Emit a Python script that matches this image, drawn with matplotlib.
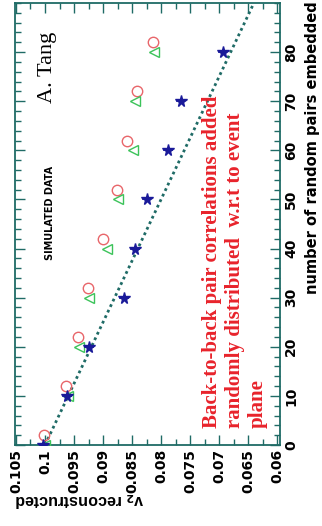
import matplotlib
matplotlib.use('Agg')
import matplotlib.pyplot as plt
from matplotlib.ticker import MultipleLocator

# ---- data ----
pairs = [0, 10, 20, 30, 40, 50, 60, 70, 80]
circle_pairs = [2, 12, 22, 32, 42, 52, 62, 72, 82]
v2_star = [0.1004, 0.0962, 0.0924, 0.0864, 0.0845, 0.0825, 0.0788, 0.0766, 0.0694]
v2_star_err = [0.0008, 0.0008, 0.0008, 0.0008, 0.0008, 0.0008, 0.0008, 0.0008, 0.0008]
v2_triangle = [0.1000, 0.0961, 0.0941, 0.0924, 0.0893, 0.0874, 0.0848, 0.0845, 0.0812]
v2_circle = [0.1002, 0.0963, 0.0943, 0.0926, 0.0900, 0.0876, 0.0859, 0.0841, 0.0814]
line_pairs = [0, 90]
line_v2 = [0.1000, 0.0640]

v2_ticks = [0.105, 0.1, 0.095, 0.09, 0.085, 0.08, 0.075, 0.07, 0.065, 0.06]
v2_tick_labels = ['0.105', '0.1', '0.095', '0.09', '0.085', '0.08', '0.075', '0.07', '0.065', '0.06']
pair_ticks = [0, 10, 20, 30, 40, 50, 60, 70, 80]
pair_tick_labels = ['0', '10', '20', '30', '40', '50', '60', '70', '80']

teal = '#1f6b66'
red_c = '#e8666a'
green_c = '#3cc35a'
navy = '#1a1a99'
red_txt = '#e8232b'

fig = plt.figure(figsize=(3.22, 5.26), dpi=100)
ax = fig.add_axes([15 / 322, 1 - 445 / 526, 265 / 322, 442 / 526])
ax.set_xlim(0.10517, 0.0595)
ax.set_ylim(0, 90)

ax.plot(line_v2, line_pairs, ls=(0, (1, 1.2)), color=teal, lw=2.0, zorder=2)
ax.plot(v2_circle, circle_pairs, marker='o', ls='none', mfc='none', mec=red_c, ms=7.5, mew=1.0, zorder=3)
ax.plot(v2_triangle, pairs, marker='<', ls='none', mfc='none', mec=green_c, ms=7.5, mew=1.0, zorder=3)
ax.errorbar(v2_star, pairs, xerr=v2_star_err, fmt='*', color=navy, ms=8.5, elinewidth=1.2, capsize=0, zorder=4)

ax.set_xticks(v2_ticks)
ax.set_xticklabels(v2_tick_labels, rotation=90, fontsize=10, fontweight='bold', family='DejaVu Sans')
ax.xaxis.set_minor_locator(MultipleLocator(0.0025))
ax.set_yticks(pair_ticks)
ax.set_yticklabels(pair_tick_labels, rotation=90, fontsize=10, fontweight='bold', family='DejaVu Sans',
                   va='center')
ax.yaxis.set_minor_locator(MultipleLocator(2))
ax.tick_params(which='both', direction='in', top=True, bottom=True, left=True, right=True,
               labelleft=False, labelright=True, color=teal, width=1.0)
ax.tick_params(which='major', length=7, pad=3)
ax.tick_params(which='minor', length=4)
for s in ax.spines.values():
    s.set_color(teal)
    s.set_linewidth(1.3)

# axis titles
fig.text(305 / 322, 1 - 1 / 526, 'number of random pairs embedded', rotation=90, ha='left', va='top',
         fontsize=10.5, fontweight='bold', family='DejaVu Sans')
fig.text(15 / 322, 1 - 499 / 526, r'v$_{\mathbf{2}}$ reconstructed', rotation=180, ha='left', va='center',
         fontsize=11.5, fontweight='bold', family='Liberation Sans')

# annotations
ax.text(0.121, 0.855, 'A. Tang', rotation=90, ha='center', va='center', transform=ax.transAxes,
        fontsize=16, family='Liberation Serif')
ax.text(0.133, 0.525, 'SIMULATED DATA', rotation=90, ha='center', va='center', transform=ax.transAxes,
        fontsize=7, fontweight='bold', family='DejaVu Sans')
ax.text(0.706, 0.038, 'Back-to-back pair correlations added\nrandomly distributed  w.r.t to event\nplane',
        rotation=90, ha='left', va='bottom', multialignment='left', transform=ax.transAxes,
        fontsize=15, fontweight='bold', family='Liberation Serif', color=red_txt, linespacing=1.2)

fig.savefig('out.png', dpi=100)
